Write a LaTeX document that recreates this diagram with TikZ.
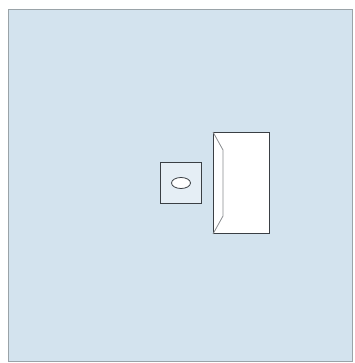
\documentclass[tikz,border=0pt]{standalone}
\usetikzlibrary{positioning, calc, shapes.geometric}
\definecolor{cpanel}{HTML}{D3E3EE}
\definecolor{cedge}{HTML}{9AA3A8}
\definecolor{cline}{HTML}{3A3F44}
\tikzset{
  every picture/.style={line width=1.2pt},
  panelbox/.style={draw=cedge, fill=cpanel, line width=1.4pt, inner sep=0pt},
  unitbox/.style={draw=cline, inner sep=0pt, line width=1pt},
}
\begin{document}
\begin{tikzpicture}[x=1pt, y=-1pt]
  \useasboundingbox (0,0) rectangle (354,363);
  % the wall panel
  \node[panelbox, minimum width=344pt, minimum height=352pt, anchor=north west] (panel) at (8,9) {};
  % small square with the oval
  \node[unitbox, fill=cpanel!60!white, minimum width=41pt, minimum height=41pt, anchor=north west] (knob) at (160,162) {};
  \node[draw=cline, fill=white, ellipse, minimum width=19pt, minimum height=11pt, inner sep=0pt, line width=0.8pt] (oval) at (knob.center) {};
  % the tall box
  \node[unitbox, fill=white, minimum width=56pt, minimum height=101pt, anchor=north west] (door) at (213,132) {};
  \coordinate (dtop) at ($(door.north west)+(10,18)$);
  \coordinate (dbot) at ($(door.south west)+(10,-18)$);
  \draw[cline!60, line width=0.8pt] (door.north west) -- (dtop) -- (dbot) -- (door.south west);
\end{tikzpicture}
\end{document}
